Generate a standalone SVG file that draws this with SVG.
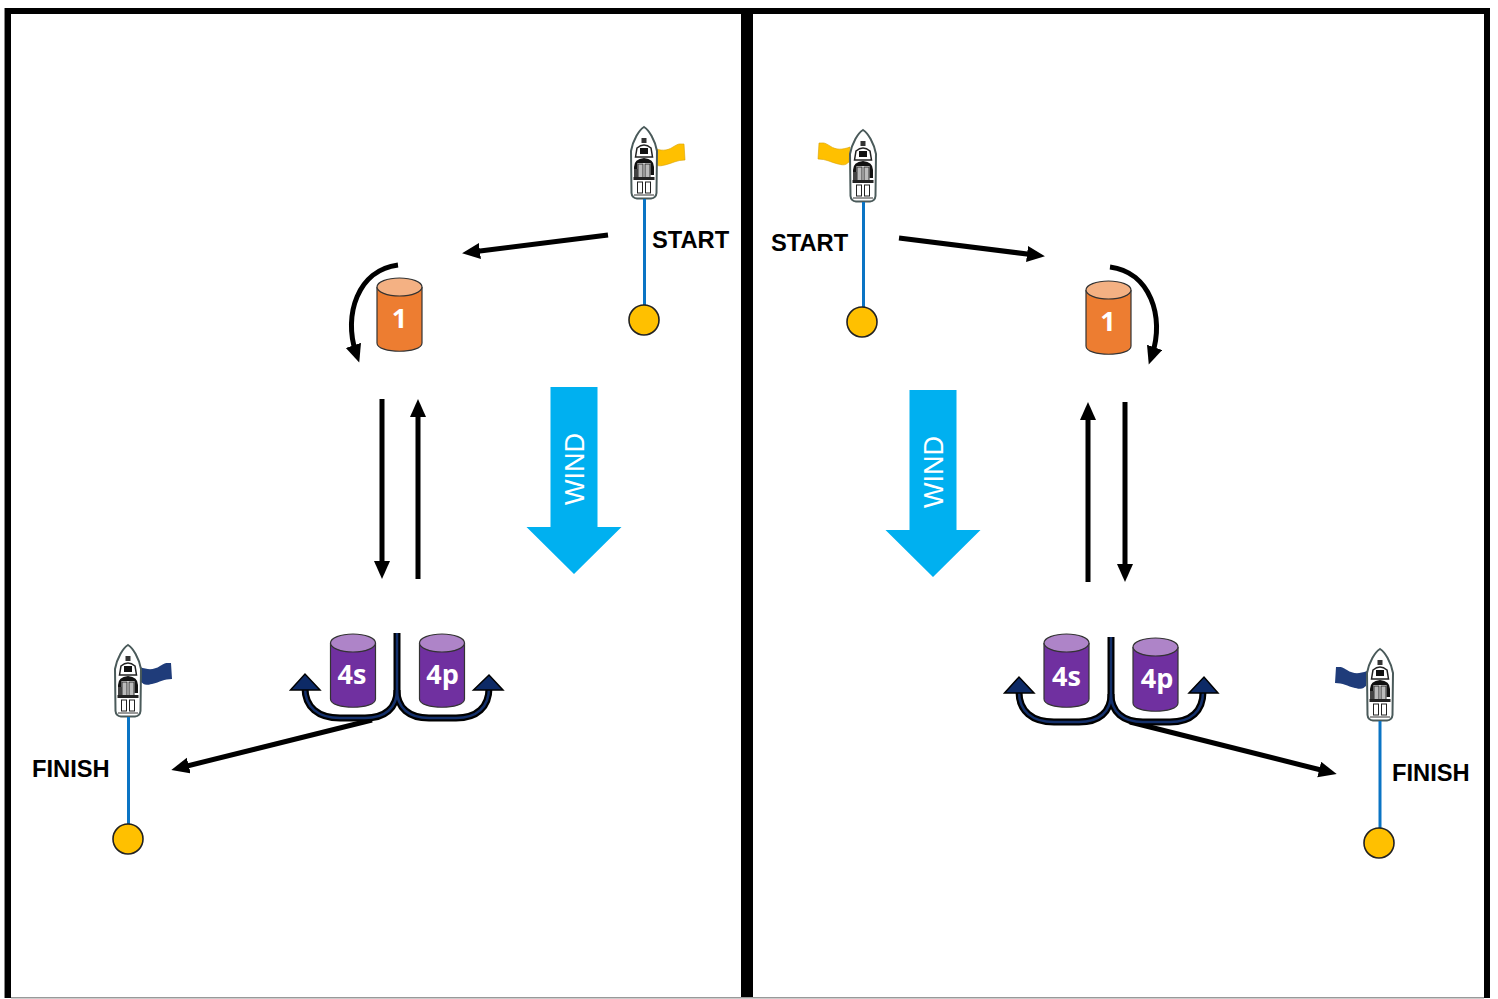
<svg xmlns="http://www.w3.org/2000/svg" width="1498" height="999" viewBox="0 0 1498 999">
<style>
.lbl{font-family:"Liberation Sans",Arial,sans-serif;font-weight:700;font-size:23.7px;fill:#000}
.cyl{font-family:"Open Sans","Noto Sans",sans-serif;font-weight:700;font-size:27px;fill:#fff;text-anchor:middle}
.wind{font-family:"Liberation Sans",Arial,sans-serif;font-size:27px;fill:#fff;text-anchor:middle}
.blk{fill:none;stroke:#000;stroke-width:5}
.nav{fill:none;stroke:#000;stroke-width:7}
.navi{fill:none;stroke:#14306b;stroke-width:2.500}
.rope{stroke:#0b74c4;stroke-width:3;fill:none}
.buoy{fill:#ffc000;stroke:#222;stroke-width:1.6}
</style>
<defs>
<marker id="ah" markerUnits="userSpaceOnUse" markerWidth="20" markerHeight="18" refX="8" refY="8" orient="auto"><path d="M0 0L18 8L0 16Z" fill="#000"/></marker>
<g id="boat">
<path d="M0 0C5 3 11 13 13 24L12.500 66Q12 71 7 71.500L-7 71.500Q-12 71 -12.500 66L-13 24C-11 13 -5 3 0 0Z" fill="#fff" stroke="#4a5a5a" stroke-width="2"/>
<path d="M-8.500 30L-7 21Q0 15 7 21L8.500 30Z" fill="#fff" stroke="#222" stroke-width="1.500"/>
<rect x="-4" y="21" width="8" height="6" fill="#111"/>
<rect x="-2.500" y="11" width="5" height="5" fill="#333"/>
<path d="M-10 40Q-10 32 0 31Q10 32 10 40L10 48L6.500 48L6.500 36L-6.500 36L-6.500 48L-10 48Z" fill="#111"/>
<rect x="-6" y="37" width="5" height="14" fill="#bbb" stroke="#333"/>
<rect x="1" y="37" width="5" height="14" fill="#bbb" stroke="#333"/>
<path d="M-10 42H-6V51H-10Z" fill="#444"/>
<rect x="-10.500" y="50" width="21" height="3" fill="#222"/>
<rect x="-6.500" y="55" width="5" height="11" fill="#fff" stroke="#222"/>
<rect x="1.500" y="55" width="5" height="11" fill="#fff" stroke="#222"/>
<rect x="-10" y="67" width="20" height="2" fill="#999"/>
</g>
<path id="flag" d="M0 0C8 3 14 3 20 -1S27 -4 31 -4L32 12C24 12 20 15 12 17S4 17 1 15Z"/>
<g id="windArrow"><path d="M0 0H47V140H71L23.500 187L-24 140H0Z" fill="#00b0f0"/></g>
<g id="cyl"><path d="M0 9V65C0 76 45 76 45 65V9" stroke="#333" stroke-width="1.200"/></g>
</defs>
<rect width="1498" height="999" fill="#fff"/>
<g id="frame">
<rect x="4" y="8" width="1" height="990" fill="#888"/>
<rect x="5" y="8" width="6" height="990" fill="#000"/>
<rect x="5" y="8" width="1485" height="6" fill="#000"/>
<rect x="741" y="8" width="12" height="990" fill="#000"/>
<rect x="1484" y="8" width="6" height="990" fill="#000"/>
<rect x="11" y="997" width="1473" height="1.500" fill="#999"/>
</g>
<g id="connectors">
<path class="blk" d="M608 235L472 252" marker-end="url(#ah)"/>
<path class="blk" d="M398 265C358 270 343 315 356 353" marker-end="url(#ah)"/>
<path class="blk" d="M382 399V569" marker-end="url(#ah)"/>
<path class="blk" d="M418 579V409" marker-end="url(#ah)"/>
<path class="blk" d="M372 720L181 767.500" marker-end="url(#ah)"/>
<path class="blk" d="M899 238L1035 255" marker-end="url(#ah)"/>
<path class="blk" d="M1110 267C1150 272 1165 317 1152 355" marker-end="url(#ah)"/>
<path class="blk" d="M1088 582V412" marker-end="url(#ah)"/>
<path class="blk" d="M1125 402V572" marker-end="url(#ah)"/>
<path class="blk" d="M1130 722L1327 771.500" marker-end="url(#ah)"/>
<g id="u-left">
<path class="nav" d="M397 633V690C397 708 385 718 365 718H340C318 718 305 707 305 688"/>
<path class="nav" d="M397 690C397 708 409 718 429 718H456C477 718 489 707 489 688"/>
<path class="navi" d="M397 633V690C397 708 385 718 365 718H340C318 718 305 707 305 688"/>
<path class="navi" d="M397 690C397 708 409 718 429 718H456C477 718 489 707 489 688"/>
<path d="M290.500 690L305 674L320 690Z" fill="#0d2a66" stroke="#000" stroke-width="1.500"/>
<path d="M473.500 690L489 675L503 690Z" fill="#0d2a66" stroke="#000" stroke-width="1.500"/>
</g>
<g id="u-right">
<path class="nav" d="M1111 637V694C1111 712 1099 722 1079 722H1054C1032 722 1019 711 1019 692"/>
<path class="nav" d="M1111 694C1111 712 1123 722 1143 722H1170C1191 722 1203 711 1203 692"/>
<path class="navi" d="M1111 637V694C1111 712 1099 722 1079 722H1054C1032 722 1019 711 1019 692"/>
<path class="navi" d="M1111 694C1111 712 1123 722 1143 722H1170C1191 722 1203 711 1203 692"/>
<path d="M1004.500 693L1019 677L1034 693Z" fill="#0d2a66" stroke="#000" stroke-width="1.500"/>
<path d="M1189 693L1204 677L1218 693Z" fill="#0d2a66" stroke="#000" stroke-width="1.500"/>
</g>
</g>
<g id="start-left">
<use href="#flag" x="653" y="148" fill="#ffc000" stroke="#d9a100" stroke-width=".6"/>
<use href="#boat" x="644" y="127"/>
<path class="rope" d="M644.500 199V306"/>
<circle class="buoy" cx="644" cy="320" r="15"/>
<text class="lbl" x="652" y="248">START</text>
</g>
<g id="mark1-left">
<use href="#cyl" x="377" y="278" fill="#ed7d31"/>
<ellipse cx="399.500" cy="287" rx="22.500" ry="9" fill="#f4b183" stroke="#333" stroke-width="1.200"/>
<text class="cyl" x="399.500" y="328">1</text>
</g>
<g id="wind-left">
<use href="#windArrow" x="550.500" y="387"/>
<text class="wind" transform="translate(584 469) rotate(-90)">WIND</text>
</g>
<g id="mark4s-left">
<use href="#cyl" x="330.500" y="634" fill="#7030a0"/>
<ellipse cx="353" cy="643" rx="22.500" ry="9" fill="#ae84c8" stroke="#333" stroke-width="1.200"/>
<text class="cyl" x="352" y="684">4s</text>
</g>
<g id="mark4p-left">
<use href="#cyl" x="419.500" y="634" fill="#7030a0"/>
<ellipse cx="442" cy="643" rx="22.500" ry="9" fill="#ae84c8" stroke="#333" stroke-width="1.200"/>
<text class="cyl" x="442.500" y="684">4p</text>
</g>
<g id="finish-left">
<use href="#flag" x="140" y="667" fill="#1f3c7a"/>
<use href="#boat" x="128" y="645"/>
<path class="rope" d="M128.500 717V825"/>
<circle class="buoy" cx="128" cy="839" r="15"/>
<text class="lbl" x="32" y="777">FINISH</text>
</g>
<g id="start-right">
<use href="#flag" transform="translate(850 147) scale(-1 1)" fill="#ffc000" stroke="#d9a100" stroke-width=".6"/>
<use href="#boat" x="863" y="130"/>
<path class="rope" d="M863.500 202V308"/>
<circle class="buoy" cx="862" cy="322" r="15"/>
<text class="lbl" x="771" y="251">START</text>
</g>
<g id="mark1-right">
<use href="#cyl" x="1086" y="281" fill="#ed7d31"/>
<ellipse cx="1108.500" cy="290" rx="22.500" ry="9" fill="#f4b183" stroke="#333" stroke-width="1.200"/>
<text class="cyl" x="1108" y="331">1</text>
</g>
<g id="wind-right">
<use href="#windArrow" x="909.500" y="390"/>
<text class="wind" transform="translate(943 472) rotate(-90)">WIND</text>
</g>
<g id="mark4s-right">
<use href="#cyl" x="1044" y="634" fill="#7030a0"/>
<ellipse cx="1066.500" cy="643" rx="22.500" ry="9" fill="#ae84c8" stroke="#333" stroke-width="1.200"/>
<text class="cyl" x="1066.500" y="686">4s</text>
</g>
<g id="mark4p-right">
<use href="#cyl" x="1133" y="638" fill="#7030a0"/>
<ellipse cx="1155.500" cy="647" rx="22.500" ry="9" fill="#ae84c8" stroke="#333" stroke-width="1.200"/>
<text class="cyl" x="1157" y="688">4p</text>
</g>
<g id="finish-right">
<use href="#flag" transform="translate(1367 671) scale(-1 1)" fill="#1f3c7a"/>
<use href="#boat" x="1380" y="649"/>
<path class="rope" d="M1380 721V829"/>
<circle class="buoy" cx="1379" cy="843" r="15"/>
<text class="lbl" x="1392" y="781">FINISH</text>
</g>
</svg>
